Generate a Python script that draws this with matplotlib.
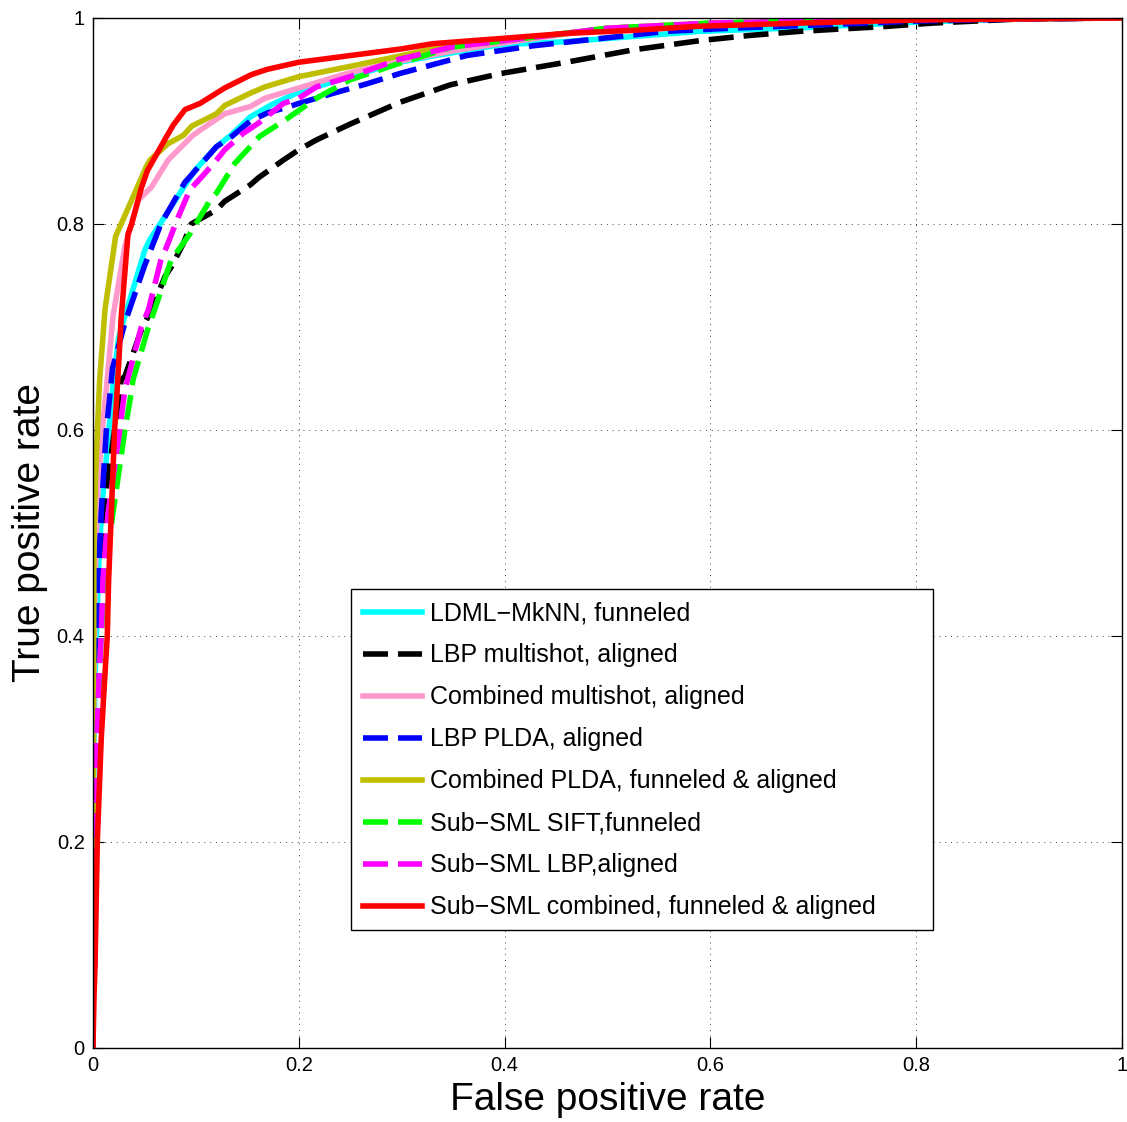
import matplotlib
matplotlib.use("Agg")
import matplotlib.pyplot as plt
from matplotlib.patches import Rectangle

plt.rcParams['font.family'] = ['Liberation Sans', 'DejaVu Sans']

# ROC curves (false positive rate, true positive rate)
ldml_fpr = [0, 0.0005, 0.001, 0.002, 0.004, 0.006, 0.009, 0.0155, 0.02, 0.025, 0.033, 0.0505, 0.0554, 0.073, 0.0878,
            0.099, 0.12, 0.135, 0.153, 0.174, 0.2, 0.25, 0.298, 0.33, 0.396, 0.46, 0.525, 0.59, 0.7, 0.8, 0.9, 1]
ldml_tpr = [0, 0.15, 0.3, 0.36, 0.42, 0.48, 0.53, 0.6, 0.649, 0.69, 0.717, 0.775, 0.785, 0.812, 0.835,
            0.852, 0.875, 0.887, 0.904, 0.916, 0.928, 0.943, 0.957, 0.963, 0.974, 0.977, 0.982, 0.987, 0.991, 0.996, 0.999, 1]

lbp_ms_fpr = [0, 0.0005, 0.002, 0.004, 0.0055, 0.0065, 0.0097, 0.021, 0.0275, 0.031, 0.047, 0.057, 0.070, 0.0765,
              0.0878, 0.0955, 0.12, 0.128, 0.153, 0.161, 0.185, 0.2, 0.217, 0.25, 0.298, 0.347, 0.396, 0.46,
              0.525, 0.59, 0.638, 0.687, 0.768, 0.816, 0.9, 1]
lbp_ms_tpr = [0, 0.15, 0.3, 0.36, 0.4, 0.454, 0.519, 0.6, 0.649, 0.652, 0.697, 0.717, 0.749, 0.759,
              0.781, 0.80, 0.8136, 0.822, 0.838, 0.845, 0.862, 0.872, 0.8815, 0.897, 0.918, 0.935, 0.946, 0.957,
              0.969, 0.978, 0.983, 0.987, 0.9916, 0.995, 0.999, 1]

comb_ms_fpr = [0, 0.0005, 0.002, 0.005, 0.009, 0.013, 0.0194, 0.031, 0.044, 0.057, 0.073, 0.096, 0.104, 0.128,
               0.153, 0.167, 0.2, 0.25, 0.298, 0.35, 0.4, 0.5, 0.6, 0.7, 0.8, 1]
comb_ms_tpr = [0, 0.3, 0.45, 0.55, 0.6, 0.64, 0.71, 0.778, 0.823, 0.836, 0.862, 0.885, 0.891, 0.907,
               0.914, 0.922, 0.932, 0.947, 0.958, 0.968, 0.976, 0.99, 0.994, 0.997, 0.999, 1]

lbp_plda_fpr = [0, 0.0005, 0.001, 0.003, 0.004, 0.005, 0.008, 0.013, 0.016, 0.019, 0.031, 0.05, 0.066, 0.089,
                0.12, 0.135, 0.153, 0.170, 0.191, 0.2, 0.234, 0.266, 0.298, 0.363, 0.428, 0.493, 0.557, 0.62,
                0.7, 0.8, 0.9, 1]
lbp_plda_tpr = [0, 0.15, 0.25, 0.357, 0.4, 0.454, 0.519, 0.6, 0.629, 0.66, 0.704, 0.759, 0.80, 0.84,
                0.875, 0.885, 0.900, 0.908, 0.914, 0.917, 0.927, 0.936, 0.946, 0.9635, 0.973, 0.98, 0.987, 0.99,
                0.993, 0.997, 0.999, 1]

comb_plda_fpr = [0, 0.0003, 0.0005, 0.001, 0.003, 0.0065, 0.0117, 0.013, 0.022, 0.034, 0.052, 0.0554, 0.073,
                 0.0878, 0.096, 0.12, 0.128, 0.153, 0.167, 0.2, 0.25, 0.298, 0.33, 0.4, 0.5, 0.6, 0.7, 0.8, 1]
comb_plda_tpr = [0, 0.2, 0.35, 0.5, 0.57, 0.649, 0.717, 0.726, 0.788, 0.815, 0.856, 0.862, 0.878,
                 0.886, 0.895, 0.907, 0.915, 0.927, 0.933, 0.943, 0.953, 0.963, 0.970, 0.978, 0.99, 0.995, 0.997, 0.999, 1]

sift_fpr = [0, 0.0005, 0.002, 0.005, 0.008, 0.0113, 0.0194, 0.031, 0.036, 0.039, 0.053, 0.060, 0.076, 0.094,
            0.115, 0.12, 0.138, 0.162, 0.187, 0.217, 0.25, 0.298, 0.35, 0.4, 0.5, 0.6, 0.7, 0.8, 1]
sift_tpr = [0, 0.1, 0.25, 0.33, 0.4, 0.454, 0.519, 0.6, 0.629, 0.649, 0.697, 0.717, 0.765, 0.79,
            0.825, 0.83, 0.859, 0.885, 0.901, 0.922, 0.940, 0.956, 0.972, 0.978, 0.99, 0.995, 0.997, 0.999, 1]

sml_lbp_fpr = [0, 0.0005, 0.002, 0.0058, 0.008, 0.0097, 0.0146, 0.026, 0.031, 0.047, 0.054, 0.066, 0.0716, 0.083,
               0.094, 0.106, 0.12, 0.128, 0.146, 0.161, 0.185, 0.2, 0.217, 0.25, 0.298, 0.35, 0.4, 0.5, 0.6, 0.7,
               0.8, 1]
sml_lbp_tpr = [0, 0.15, 0.25, 0.357, 0.4, 0.454, 0.519, 0.6, 0.639, 0.70, 0.717, 0.765, 0.778, 0.807,
               0.833, 0.846, 0.862, 0.872, 0.888, 0.898, 0.917, 0.922, 0.933, 0.943, 0.96, 0.972, 0.978, 0.99, 0.995, 0.997,
               0.999, 1]

sml_comb_fpr = [0, 0.001, 0.002, 0.0042, 0.008, 0.0113, 0.0139, 0.0152, 0.0178, 0.021, 0.0236, 0.0275, 0.034, 0.0376,
                0.047, 0.053, 0.0716, 0.078, 0.0894, 0.104, 0.128, 0.154, 0.169, 0.2, 0.25, 0.3, 0.33, 0.396, 0.46,
                0.525, 0.59, 0.687, 0.8, 0.9, 1]
sml_comb_tpr = [0, 0.05, 0.08, 0.2, 0.3, 0.357, 0.4, 0.454, 0.519, 0.6, 0.64, 0.71, 0.79, 0.80,
                0.835, 0.852, 0.885, 0.896, 0.911, 0.917, 0.932, 0.945, 0.95, 0.957, 0.9635, 0.970, 0.975, 0.98, 0.985,
                0.988, 0.992, 0.995, 0.998, 0.999, 1]

labels = ['LDML\u2212MkNN, funneled', 'LBP multishot, aligned', 'Combined multishot, aligned',
          'LBP PLDA, aligned', 'Combined PLDA, funneled & aligned', 'Sub\u2212SML SIFT,funneled',
          'Sub\u2212SML LBP,aligned', 'Sub\u2212SML combined, funneled & aligned']

fig = plt.figure(figsize=(11.27, 11.22), dpi=100)
ax = fig.add_axes([0.0825, 0.066, 0.913, 0.918])

dash = (4.5, 1.8)
lw = 4
ax.plot(ldml_fpr, ldml_tpr, color='cyan', lw=lw, label=labels[0])
ax.plot(lbp_ms_fpr, lbp_ms_tpr, color='black', lw=lw, dashes=dash, label=labels[1])
ax.plot(comb_ms_fpr, comb_ms_tpr, color='#ff99cc', lw=lw, label=labels[2])
ax.plot(lbp_plda_fpr, lbp_plda_tpr, color='blue', lw=lw, dashes=dash, label=labels[3])
ax.plot(comb_plda_fpr, comb_plda_tpr, color='#bfbf00', lw=lw, label=labels[4])
ax.plot(sift_fpr, sift_tpr, color='#00ff00', lw=lw, dashes=dash, label=labels[5])
ax.plot(sml_lbp_fpr, sml_lbp_tpr, color='magenta', lw=lw, dashes=dash, label=labels[6])
ax.plot(sml_comb_fpr, sml_comb_tpr, color='red', lw=lw, label=labels[7])

ax.set_xlim(0, 1)
ax.set_ylim(0, 1)
ticks = [0, 0.2, 0.4, 0.6, 0.8, 1]
tick_labels = ['0', '0.2', '0.4', '0.6', '0.8', '1']
ax.set_xticks(ticks)
ax.set_xticklabels(tick_labels)
ax.set_yticks(ticks)
ax.set_yticklabels(tick_labels)
ax.tick_params(direction='in', length=8, width=0.8, top=True, right=True, labelsize=14.5, pad=6)
ax.grid(True, linestyle=(0, (1, 5)), color='#444444', linewidth=0.7)
for s in ax.spines.values():
    s.set_linewidth(1)

ax.set_xlabel('False positive rate', fontsize=28, labelpad=5)
ax.set_ylabel('True positive rate', fontsize=28, labelpad=6)

# MATLAB-style legend box (wider than its text), drawn as a plain rectangle
box = Rectangle((0.2507, 0.1146), 0.5656, 0.331, transform=ax.transAxes, facecolor='white',
                edgecolor='black', linewidth=1, zorder=4)
ax.add_patch(box)
leg = ax.legend(loc='upper left', bbox_to_anchor=(0.2507, 0.4456), fontsize=18, frameon=False,
                handlelength=2.35, handletextpad=0.3, labelspacing=0.72, borderpad=0.5, borderaxespad=0)
leg.set_zorder(5)

fig.savefig('out.png', dpi=100)
